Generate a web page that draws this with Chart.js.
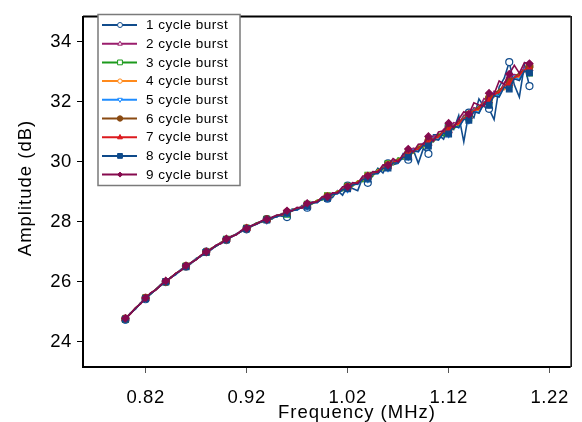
<!DOCTYPE html>
<html>
<head>
<meta charset="utf-8">
<title>Amplitude vs frequency</title>
<script src="https://cdn.jsdelivr.net/npm/chart.js@4.4.1/dist/chart.umd.min.js"></script>
<style>
    html, body { margin: 0; padding: 0; background: #fff; }
    #burstChart { display: block; }
</style>
</head>
<body>
<canvas id="burstChart" width="582" height="422"></canvas>
<script>
// #### DATA ####
let frequencies = [
    0.800, 0.805, 0.810, 0.815, 0.820, 0.825, 0.830, 0.835, 0.840, 0.845,
    0.850, 0.855, 0.860, 0.865, 0.870, 0.875, 0.880, 0.885, 0.890, 0.895,
    0.900, 0.905, 0.910, 0.915, 0.920, 0.925, 0.930, 0.935, 0.940, 0.945,
    0.950, 0.955, 0.960, 0.965, 0.970, 0.975, 0.980, 0.985, 0.990, 0.995,
    1.000, 1.005, 1.010, 1.015, 1.020, 1.025, 1.030, 1.035, 1.040, 1.045,
    1.050, 1.055, 1.060, 1.065, 1.070, 1.075, 1.080, 1.085, 1.090, 1.095,
    1.100, 1.105, 1.110, 1.115, 1.120, 1.125, 1.130, 1.135, 1.140, 1.145,
    1.150, 1.155, 1.160, 1.165, 1.170, 1.175, 1.180, 1.185, 1.190, 1.195,
    1.200
];

let burst1 = [
    24.72, 24.95, 25.08, 25.28, 25.41, 25.61, 25.72, 25.90, 25.98, 26.14,
    26.23, 26.40, 26.50, 26.60, 26.77, 26.85, 27.00, 27.06, 27.20, 27.31,
    27.38, 27.52, 27.57, 27.70, 27.74, 27.86, 27.96, 27.98, 28.08, 28.08,
    28.21, 28.18, 28.15, 28.41, 28.38, 28.54, 28.46, 28.65, 28.63, 28.82,
    28.76, 28.80, 29.03, 28.88, 29.20, 29.10, 29.03, 29.48, 29.29, 29.53,
    29.78, 29.62, 29.94, 29.90, 29.94, 30.26, 30.06, 30.39, 29.94, 30.44,
    30.26, 30.89, 30.89, 30.75, 31.18, 31.07, 31.54, 30.66, 31.63, 31.46,
    32.09, 31.83, 31.76, 31.40, 32.49, 32.78, 33.32, 32.56, 32.15, 33.22,
    32.52
];
let burst2 = [
    24.76, 24.94, 25.09, 25.28, 25.43, 25.60, 25.74, 25.86, 26.01, 26.14,
    26.25, 26.39, 26.49, 26.63, 26.75, 26.85, 26.99, 27.10, 27.18, 27.30,
    27.41, 27.48, 27.59, 27.67, 27.78, 27.84, 27.94, 28.01, 28.05, 28.13,
    28.17, 28.27, 28.28, 28.40, 28.40, 28.52, 28.52, 28.66, 28.67, 28.79,
    28.80, 28.94, 28.97, 29.10, 29.12, 29.28, 29.29, 29.46, 29.47, 29.64,
    29.66, 29.83, 29.82, 30.03, 30.02, 30.20, 30.22, 30.45, 30.40, 30.62,
    30.60, 30.86, 30.80, 31.08, 31.02, 31.30, 31.25, 31.55, 31.50, 31.80,
    31.75, 32.10, 32.02, 32.35, 32.30, 32.62, 32.85, 32.90, 32.88, 33.15,
    33.20
];
let burst3 = [
    24.74, 24.93, 25.11, 25.26, 25.45, 25.58, 25.74, 25.87, 25.99, 26.14,
    26.27, 26.37, 26.51, 26.61, 26.75, 26.86, 26.97, 27.10, 27.20, 27.28,
    27.41, 27.50, 27.57, 27.69, 27.78, 27.84, 27.95, 27.99, 28.08, 28.10,
    28.20, 28.21, 28.24, 28.39, 28.43, 28.46, 28.58, 28.59, 28.72, 28.72,
    28.86, 28.87, 29.02, 29.03, 29.18, 29.18, 29.36, 29.33, 29.55, 29.52,
    29.74, 29.72, 29.93, 29.90, 30.12, 30.08, 30.30, 30.28, 30.52, 30.46,
    30.72, 30.66, 30.92, 30.86, 31.15, 31.10, 31.22, 31.48, 31.45, 31.74,
    31.70, 32.00, 31.98, 32.26, 32.22, 32.55, 32.58, 32.82, 32.80, 33.05,
    32.95
];
let burst4 = [
    24.75, 24.92, 25.10, 25.28, 25.43, 25.60, 25.72, 25.88, 26.00, 26.12,
    26.27, 26.38, 26.49, 26.63, 26.73, 26.87, 26.97, 27.10, 27.18, 27.30,
    27.39, 27.50, 27.58, 27.67, 27.78, 27.85, 27.92, 28.01, 28.06, 28.11,
    28.19, 28.23, 28.32, 28.35, 28.44, 28.47, 28.56, 28.60, 28.70, 28.74,
    28.85, 28.88, 29.01, 29.05, 29.17, 29.20, 29.34, 29.38, 29.53, 29.55,
    29.72, 29.74, 29.91, 29.92, 30.08, 30.12, 30.30, 30.30, 30.50, 30.50,
    30.70, 30.70, 30.80, 31.00, 31.00, 31.22, 31.24, 31.46, 31.48, 31.70,
    31.72, 31.88, 32.10, 32.15, 32.38, 32.40, 32.55, 32.78, 32.82, 33.00,
    33.05
];
let burst5 = [
    24.74, 24.94, 25.09, 25.27, 25.44, 25.58, 25.74, 25.86, 26.01, 26.13,
    26.25, 26.39, 26.50, 26.61, 26.75, 26.85, 26.99, 27.08, 27.20, 27.28,
    27.41, 27.48, 27.59, 27.67, 27.76, 27.86, 27.91, 28.02, 28.04, 28.13,
    28.15, 28.26, 28.27, 28.39, 28.38, 28.51, 28.50, 28.64, 28.64, 28.78,
    28.78, 28.93, 28.93, 29.10, 29.08, 29.26, 29.24, 29.44, 29.42, 29.62,
    29.60, 29.82, 29.78, 30.00, 29.96, 30.20, 30.16, 30.40, 30.32, 30.60,
    30.52, 30.80, 30.72, 31.02, 30.92, 31.22, 31.12, 31.45, 31.38, 31.72,
    31.62, 32.00, 31.90, 32.28, 32.18, 32.55, 32.50, 32.85, 32.72, 33.10,
    32.98
];
let burst6 = [
    24.76, 24.93, 25.11, 25.26, 25.45, 25.59, 25.73, 25.88, 25.99, 26.14,
    26.26, 26.37, 26.51, 26.62, 26.73, 26.87, 26.98, 27.09, 27.19, 27.30,
    27.40, 27.49, 27.58, 27.68, 27.77, 27.85, 27.94, 28.00, 28.07, 28.12,
    28.19, 28.25, 28.31, 28.37, 28.43, 28.50, 28.55, 28.63, 28.69, 28.77,
    28.83, 28.92, 28.99, 29.08, 29.15, 29.24, 29.32, 29.42, 29.50, 29.60,
    29.69, 29.80, 29.87, 29.98, 30.06, 30.16, 30.27, 30.36, 30.48, 30.56,
    30.68, 30.76, 30.88, 30.98, 31.10, 31.20, 31.33, 31.44, 31.57, 31.68,
    31.84, 31.95, 32.12, 32.22, 32.40, 32.50, 32.68, 32.80, 32.96, 33.05,
    33.18
];
let burst7 = [
    24.75, 24.94, 25.10, 25.27, 25.44, 25.60, 25.73, 25.87, 26.00, 26.13,
    26.27, 26.38, 26.50, 26.62, 26.74, 26.86, 26.98, 27.09, 27.20, 27.29,
    27.40, 27.49, 27.58, 27.68, 27.76, 27.85, 27.93, 28.00, 28.06, 28.12,
    28.17, 28.24, 28.29, 28.36, 28.41, 28.49, 28.53, 28.62, 28.67, 28.76,
    28.81, 28.91, 28.97, 29.07, 29.13, 29.23, 29.30, 29.41, 29.48, 29.59,
    29.67, 29.78, 29.85, 29.97, 30.03, 30.16, 30.22, 30.36, 30.42, 30.57,
    30.62, 30.77, 30.82, 30.98, 31.04, 31.20, 31.27, 31.44, 31.51, 31.70,
    31.76, 31.97, 32.03, 32.24, 32.31, 32.52, 32.60, 32.80, 32.87, 33.06,
    33.10
];
let burst8 = [
    24.74, 24.93, 25.09, 25.27, 25.43, 25.59, 25.72, 25.87, 25.99, 26.13,
    26.25, 26.38, 26.49, 26.62, 26.73, 26.86, 26.97, 27.09, 27.18, 27.29,
    27.39, 27.49, 27.57, 27.68, 27.76, 27.85, 27.92, 28.00, 28.05, 28.12,
    28.16, 28.24, 28.27, 28.36, 28.39, 28.48, 28.51, 28.61, 28.64, 28.75,
    28.77, 28.90, 28.93, 29.06, 29.09, 29.22, 29.25, 29.40, 29.42, 29.58,
    29.60, 29.77, 29.78, 29.95, 29.96, 30.14, 30.15, 30.34, 30.34, 30.54,
    30.52, 30.74, 30.72, 30.95, 30.92, 31.17, 31.14, 31.41, 31.38, 31.66,
    31.62, 31.93, 31.88, 32.20, 32.15, 32.48, 32.42, 32.76, 32.70, 33.02,
    32.96
];
let burst9 = [
    24.77, 24.92, 25.12, 25.25, 25.45, 25.62, 25.71, 25.88, 26.02, 26.12,
    26.28, 26.36, 26.53, 26.63, 26.72, 26.88, 26.99, 27.08, 27.22, 27.27,
    27.42, 27.50, 27.56, 27.71, 27.77, 27.87, 27.92, 28.03, 28.07, 28.14,
    28.22, 28.22, 28.36, 28.36, 28.47, 28.45, 28.61, 28.63, 28.66, 28.83,
    28.83, 28.96, 28.95, 29.16, 29.16, 29.30, 29.27, 29.52, 29.52, 29.67,
    29.65, 29.89, 29.88, 30.10, 29.99, 30.24, 30.42, 30.32, 30.58, 30.59,
    30.84, 30.68, 30.99, 31.03, 31.28, 31.13, 31.41, 31.66, 31.58, 31.96,
    31.89, 31.85, 32.28, 32.25, 32.69, 32.58, 32.92, 33.21, 32.95, 33.30,
    33.27
];

let seriesNames = ["1 cycle burst", "2 cycle burst", "3 cycle burst", "4 cycle burst", "5 cycle burst",
    "6 cycle burst", "7 cycle burst", "8 cycle burst", "9 cycle burst"];
let seriesValues = [burst1, burst2, burst3, burst4, burst5, burst6, burst7, burst8, burst9];

let xTickValues = [0.82, 0.92, 1.02, 1.12, 1.22];
let yTickValues = [24, 26, 28, 30, 32, 34];

// #### STYLES ####
// shape, filled, plot radius, legend radius
let seriesStyles = [
    {color: "#114c8c", shape: "circle", filled: false, r: 3.5, lr: 2.5},
    {color: "#9a1d6c", shape: "triangle", filled: false, r: 3.5, lr: 2.5},
    {color: "#1c9a1c", shape: "rect", filled: false, r: 4, lr: 3.2},
    {color: "#ff8a1c", shape: "circle", filled: false, r: 3, lr: 2.2},
    {color: "#1e8cff", shape: "triangleDown", filled: false, r: 3.5, lr: 2.5},
    {color: "#8a4a12", shape: "circle", filled: true, r: 3.5, lr: 2.7},
    {color: "#dc1a1e", shape: "triangle", filled: true, r: 3.5, lr: 2.7},
    {color: "#0e4a8a", shape: "rect", filled: true, r: 4, lr: 3.2},
    {color: "#860a4e", shape: "rectRot", filled: true, r: 3.5, lr: 2.5}
];

let fontFamily = "'Liberation Sans', Arial, Helvetica, sans-serif";

let drawMarker = (ctx, shape, x, y, r, color, filled) => {
    ctx.save();
    ctx.beginPath();
    if (shape === "circle") {
        ctx.arc(x, y, r, 0, Math.PI * 2);
    } else if (shape === "rect") {
        ctx.rect(x - r * 0.75, y - r * 0.75, r * 1.5, r * 1.5);
    } else if (shape === "triangle") {
        ctx.moveTo(x, y - r);
        ctx.lineTo(x + r * 0.9, y + r * 0.6);
        ctx.lineTo(x - r * 0.9, y + r * 0.6);
        ctx.closePath();
    } else if (shape === "triangleDown") {
        ctx.moveTo(x, y + r);
        ctx.lineTo(x + r * 0.9, y - r * 0.6);
        ctx.lineTo(x - r * 0.9, y - r * 0.6);
        ctx.closePath();
    } else {
        ctx.moveTo(x, y - r);
        ctx.lineTo(x + r, y);
        ctx.lineTo(x, y + r);
        ctx.lineTo(x - r, y);
        ctx.closePath();
    }
    ctx.fillStyle = filled ? color : "#ffffff";
    ctx.fill();
    ctx.lineWidth = 1;
    ctx.strokeStyle = color;
    ctx.stroke();
    ctx.restore();
};

// #### DATASETS ####
let datasets = seriesValues.map((values, i) => {
    let st = seriesStyles[i];
    return {
        label: seriesNames[i],
        data: frequencies.map((f, k) => ({x: f, y: values[k]})),
        borderColor: st.color,
        borderWidth: 1.6,
        tension: 0,
        order: seriesValues.length - i,
        pointStyle: st.shape === "triangleDown" ? "triangle" : st.shape,
        rotation: st.shape === "triangleDown" ? 180 : 0,
        pointRadius: (c) => (c.dataIndex % 4 === 0 ? st.r : 0),
        pointBorderWidth: 1.2,
        pointBorderColor: st.color,
        pointBackgroundColor: st.filled ? st.color : "#ffffff"
    };
});

// #### PLUGINS ####
let spacingPlugin = {
    id: "spacing",
    beforeDraw: (chart) => {
        chart.ctx.letterSpacing = "0.6px";
    }
};

let framePlugin = {
    id: "frame",
    afterDraw: (chart) => {
        let ctx = chart.ctx;
        let a = chart.chartArea;
        ctx.save();
        ctx.strokeStyle = "#000";
        ctx.lineWidth = 2;
        ctx.beginPath();
        ctx.moveTo(83, a.top);
        ctx.lineTo(83, a.bottom + 1);
        ctx.moveTo(a.left, a.bottom);
        ctx.lineTo(a.right, a.bottom);
        ctx.moveTo(a.left, a.top + 0.3);
        ctx.lineTo(a.right, a.top + 0.3);
        ctx.stroke();
        ctx.lineWidth = 1.5;
        ctx.beginPath();
        ctx.moveTo(a.right + 0.5, a.top);
        ctx.lineTo(a.right + 0.5, a.bottom);
        ctx.stroke();

        // axis titles
        ctx.fillStyle = "#000";
        ctx.letterSpacing = "1px";
        ctx.font = "18.5px " + fontFamily;
        ctx.textAlign = "center";
        ctx.textBaseline = "alphabetic";
        ctx.fillText("Frequency (MHz)", 357, 418);
        ctx.save();
        ctx.translate(31, 188);
        ctx.rotate(-Math.PI / 2);
        ctx.fillText("Amplitude (dB)", 0, 0);
        ctx.restore();

        // legend box
        ctx.fillStyle = "#fff";
        ctx.fillRect(98, 14.5, 142, 171);
        ctx.strokeStyle = "#7a7a7a";
        ctx.lineWidth = 1.5;
        ctx.strokeRect(98, 14.5, 142, 171);
        ctx.letterSpacing = "0.5px";
        ctx.font = "13.5px " + fontFamily;
        ctx.textAlign = "left";
        ctx.textBaseline = "middle";
        seriesNames.forEach((name, i) => {
            let st = seriesStyles[i];
            let y = 25 + i * 18.7;
            ctx.strokeStyle = st.color;
            ctx.lineWidth = 2;
            ctx.beginPath();
            ctx.moveTo(102, y);
            ctx.lineTo(137, y);
            ctx.stroke();
            drawMarker(ctx, st.shape, 120, y, st.lr, st.color, st.filled);
            ctx.fillStyle = "#000";
            ctx.fillText(name, 146, y + 0.5);
        });
        ctx.restore();
    }
};

// #### CHART ####
let burstChart = new Chart(document.getElementById("burstChart").getContext("2d"), {
    type: "line",
    data: {datasets: datasets},
    options: {
        responsive: false,
        animation: false,
        events: [],
        layout: {padding: {left: 0, right: 8, top: 10, bottom: 0}},
        plugins: {legend: {display: false}, tooltip: {enabled: false}},
        scales: {
            x: {
                type: "linear",
                min: 0.75805,
                max: 1.2408,
                afterBuildTicks: (scale) => {
                    scale.ticks = xTickValues.map((v) => ({value: v}));
                },
                afterFit: (scale) => {
                    scale.height = 55;
                },
                ticks: {
                    callback: (v) => Number(v).toFixed(2),
                    color: "#000",
                    font: {family: fontFamily, size: 18.5},
                    padding: 14,
                    maxRotation: 0,
                    autoSkip: false
                },
                grid: {drawOnChartArea: false, drawTicks: true, tickLength: 6, tickColor: "#555", tickWidth: 1},
                border: {display: false}
            },
            y: {
                type: "linear",
                min: 23.1475,
                max: 34.8525,
                afterBuildTicks: (scale) => {
                    scale.ticks = yTickValues.map((v) => ({value: v}));
                },
                afterFit: (scale) => {
                    scale.width = 83;
                },
                ticks: {
                    color: "#000",
                    font: {family: fontFamily, size: 18.5},
                    padding: 5,
                    autoSkip: false
                },
                grid: {drawOnChartArea: false, drawTicks: true, tickLength: 6, tickColor: "#000", tickWidth: 1},
                border: {display: false}
            }
        }
    },
    plugins: [spacingPlugin, framePlugin]
});
</script>
</body>
</html>
